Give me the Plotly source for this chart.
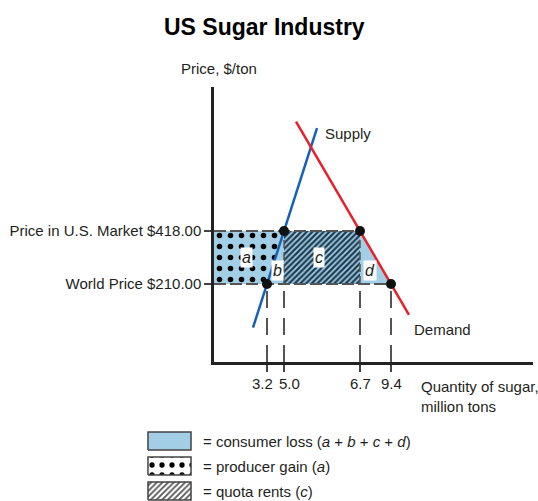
import numpy as np
import plotly.graph_objects as go

# ---------------- data ----------------
title = "US Sugar Industry"
price_labels = ["World Price $210.00", "Price in U.S. Market $418.00"]
prices = [210.0, 418.0]                    # world, US market
quantities = [3.2, 5.0, 6.7, 9.4]          # supply@world, supply@US, demand@US, demand@world
quantity_labels = ["3.2", "5.0", "6.7", "9.4"]
legend_labels = [
    "= consumer loss (<i>a</i> + <i>b</i> + <i>c</i> + <i>d</i>)",
    "= producer gain (<i>a</i>)",
    "= quota rents (<i>c</i>)",
]

# ---------------- layout (schematic positions, not data) ----------------
W, H = 538, 501
qpos = [53, 70, 146, 177]          # schematic x positions of the quantities
qlabel_shift = [-5, 5, 0, 0]       # label nudges so close labels don't collide
X_RANGE = [0, 319]
Y_RANGE = [-96, 983]
supply_ext = [39, 103]
demand_ext = [82, 195]

FONT = "Liberation Sans, Arial, Helvetica, sans-serif"
TXT = "#231f20"
BLUE_FILL = "#a3cfe6"
SUPPLY_C = "#1660b8"
DEMAND_C = "#e8202a"
DASH_C = "#555555"

pw, pu = prices
s_slope = (pu - pw) / (qpos[1] - qpos[0])
d_slope = (pw - pu) / (qpos[3] - qpos[2])
supply_y = [pw + s_slope * (x - qpos[0]) for x in supply_ext]
demand_y = [pu + d_slope * (x - qpos[2]) for x in demand_ext]

fig = go.Figure()

# consumer loss a+b+c+d
fig.add_trace(go.Scatter(
    x=[0, 0, qpos[2], qpos[3], 0], y=[pw, pu, pu, pw, pw],
    fill="toself", fillcolor=BLUE_FILL, mode="none", hoverinfo="skip"))
# producer gain a (dots)
fig.add_trace(go.Scatter(
    x=[0, 0, qpos[1], qpos[0], 0], y=[pw, pu, pu, pw, pw],
    fill="toself", mode="none", hoverinfo="skip",
    fillpattern=dict(shape=".", fgcolor="black", bgcolor=BLUE_FILL,
                     size=11, solidity=0.2, fillmode="replace")))
# quota rents c (hatch)
fig.add_trace(go.Scatter(
    x=[qpos[1], qpos[1], qpos[2], qpos[2], qpos[1]], y=[pw, pu, pu, pw, pw],
    fill="toself", mode="none", hoverinfo="skip",
    fillpattern=dict(shape="/", fgcolor="#1f3a4f", bgcolor=BLUE_FILL,
                     size=4, solidity=0.55, fillmode="replace")))

# dashed edges of the region
dash_top = dict(color=DASH_C, width=2, dash="12px,4px")
fig.add_trace(go.Scatter(x=[0, qpos[2]], y=[pu, pu], mode="lines", line=dash_top, hoverinfo="skip"))
fig.add_trace(go.Scatter(x=[0, qpos[3]], y=[pw, pw], mode="lines", line=dash_top, hoverinfo="skip"))
for xq in (qpos[1], qpos[2]):
    fig.add_trace(go.Scatter(x=[xq, xq], y=[pw, pu], mode="lines",
                             line=dict(color=DASH_C, width=1.5, dash="8px,4px"), hoverinfo="skip"))
# dashed drop lines to quantity axis
for xq in qpos:
    fig.add_trace(go.Scatter(x=[xq, xq], y=[Y_RANGE[0], pw], mode="lines",
                             line=dict(color=DASH_C, width=2, dash="17px,10px"), hoverinfo="skip"))

# supply & demand
fig.add_trace(go.Scatter(x=supply_ext, y=supply_y, mode="lines",
                         line=dict(color=SUPPLY_C, width=2.5), hoverinfo="skip"))
fig.add_trace(go.Scatter(x=demand_ext, y=demand_y, mode="lines",
                         line=dict(color=DEMAND_C, width=2.5), hoverinfo="skip"))

# points
fig.add_trace(go.Scatter(x=qpos, y=[pw, pu, pu, pw], mode="markers",
                         marker=dict(color="#111111", size=10), hoverinfo="skip"))

# region letters
letters = [("a", (qpos[0] + 0) / 2 + 6, (pw + pu) / 2),
           ("b", (qpos[0] + qpos[1]) / 2 + 2, pw + (pu - pw) * 0.25),
           ("c", (qpos[1] + qpos[2]) / 2 - 3, (pw + pu) / 2),
           ("d", (qpos[2] + qpos[3]) / 2 - 6, pw + (pu - pw) * 0.25)]
for t, lx, ly in letters:
    fig.add_annotation(x=lx, y=ly, xref="x", yref="y", text=f"<i>{t}</i>",
                       showarrow=False, bgcolor="white", borderpad=1,
                       font=dict(family=FONT, size=16, color=TXT))

# quantity tick labels (as annotations so the close pair can be nudged apart)
for xq, lab, sh in zip(qpos, quantity_labels, qlabel_shift):
    fig.add_annotation(x=xq, y=1 - 383 / H, xref="x", yref="paper",
                       text=lab, showarrow=False, xshift=sh, xanchor="center", yanchor="middle",
                       font=dict(family=FONT, size=15, color=TXT))

# legend boxes on a hidden second axis pair
boxes = [(50, 68), (25, 43), (0, 18)]
box_patterns = [
    dict(fillcolor=BLUE_FILL),
    dict(fillpattern=dict(shape=".", fgcolor="black", bgcolor="white", size=10, solidity=0.22, fillmode="replace")),
    dict(fillpattern=dict(shape="/", fgcolor="#555555", bgcolor="white", size=4, solidity=0.45, fillmode="replace")),
]
for (y0, y1), pat in zip(boxes, box_patterns):
    fig.add_trace(go.Scatter(x=[0, 0, 44, 44, 0], y=[y0, y1, y1, y0, y0],
                             xaxis="x2", yaxis="y2", fill="toself", mode="lines",
                             line=dict(color="#444444", width=1.5), hoverinfo="skip", **pat))

legend_y = [441, 466, 491]
for txt, py in zip(legend_labels, legend_y):
    fig.add_annotation(x=201 / W, y=1 - py / H, xref="paper", yref="paper",
                       xanchor="left", yanchor="middle", text=txt, showarrow=False,
                       font=dict(family=FONT, size=15, color=TXT))

# titles / labels
fig.add_annotation(x=264 / W, y=1 - 27 / H, xref="paper", yref="paper", text=f"<b>{title}</b>",
                   showarrow=False, xanchor="center", yanchor="middle",
                   font=dict(family=FONT, size=23, color="black"))
fig.add_annotation(x=219 / W, y=1 - 69 / H, xref="paper", yref="paper", text="Price, $/ton",
                   showarrow=False, xanchor="center", yanchor="middle",
                   font=dict(family=FONT, size=15, color=TXT))
fig.add_annotation(x=323 / W, y=1 - 134 / H, xref="paper", yref="paper", text="Supply",
                   showarrow=False, xanchor="left", yanchor="middle",
                   font=dict(family=FONT, size=15, color=TXT))
fig.add_annotation(x=412 / W, y=1 - 329 / H, xref="paper", yref="paper", text="Demand",
                   showarrow=False, xanchor="left", yanchor="middle",
                   font=dict(family=FONT, size=15, color=TXT))
fig.add_annotation(x=419 / W, y=1 - 396 / H, xref="paper", yref="paper",
                   text="Quantity of sugar,<br>million tons", align="left",
                   showarrow=False, xanchor="left", yanchor="middle",
                   font=dict(family=FONT, size=15, color=TXT))

fig.update_layout(
    width=W, height=H, margin=dict(l=0, r=0, t=0, b=0),
    paper_bgcolor="white", plot_bgcolor="white", showlegend=False,
    font=dict(family=FONT, size=15, color=TXT),
    xaxis=dict(domain=[214 / W, 533 / W], range=X_RANGE, showgrid=False, zeroline=False,
               showline=True, linecolor="#222222", linewidth=2.5,
               tickmode="array", tickvals=qpos, showticklabels=False,
               ticks="outside", ticklen=7, tickwidth=2, tickcolor="#444444", fixedrange=True),
    yaxis=dict(domain=[1 - 362 / H, 1 - 87 / H], range=Y_RANGE, showgrid=False, zeroline=False,
               showline=True, linecolor="#222222", linewidth=2.5,
               tickmode="array", tickvals=prices, ticktext=price_labels,
               ticks="outside", ticklen=7, tickwidth=1.5, tickcolor="#444444",
               tickfont=dict(family=FONT, size=15, color=TXT), fixedrange=True),
    xaxis2=dict(domain=[147 / W, 192 / W], range=[-1, 45], visible=False, fixedrange=True),
    yaxis2=dict(domain=[1 - 501 / H, 1 - 430 / H], range=[-1, 70], visible=False, fixedrange=True),
)

fig.write_html("out.html", config={"displayModeBar": False},
               post_script="document.body.style.margin='0px';document.body.style.overflow='hidden';")
